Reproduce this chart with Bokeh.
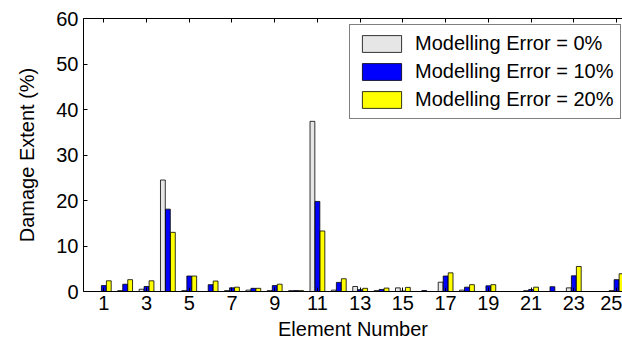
from bokeh.plotting import figure
from bokeh.models import ColumnDataSource, Range1d, LinearAxis, FixedTicker, Legend
from bokeh.transform import dodge
from bokeh.embed import file_html
from bokeh.resources import INLINE

elements = list(range(1, 26))
err0 = [0.0, 0.2, 0.5, 24.5, 0.2, 0.0, 0.2, 0.3, 0.2, 0.2, 37.4, 0.3, 1.1, 0.2, 0.8,
        0.0, 2.05, 0.3, 0.0, 0.0, 0.2, 0.0, 0.8, 0.0, 0.2]
err10 = [1.3, 1.6, 1.1, 18.1, 3.4, 1.5, 0.8, 0.7, 1.3, 0.2, 19.8, 2.0, 0.4, 0.45, 0.1,
         0.2, 3.4, 0.95, 1.25, 0.0, 0.45, 1.05, 3.45, 0.0, 2.6]
err20 = [2.35, 2.6, 2.35, 13.0, 3.4, 2.3, 0.95, 0.7, 1.6, 0.2, 13.3, 2.8, 0.7, 0.75, 0.9,
         0.0, 4.1, 1.5, 1.5, 0.0, 0.95, 0.0, 5.5, 0.0, 3.9]
series_labels = ["Modelling Error = 0%", "Modelling Error = 10%", "Modelling Error = 20%"]
series_colors = ["#e6e6e6", "#0000ff", "#ffff00"]
x_ticks = list(range(1, 26, 2))
y_ticks = list(range(0, 61, 10))

src = ColumnDataSource(dict(x=elements, e0=err0, e10=err10, e20=err20))

FONT = "Liberation Sans"

p = figure(width=622, height=343, x_range=Range1d(0.05, 25.28), y_range=Range1d(0, 60),
           output_backend="svg", toolbar_location=None,
           min_border_left=83, min_border_right=0, min_border_top=18, min_border_bottom=52)
p.outline_line_color = None
p.xgrid.visible = False
p.ygrid.visible = False
p.background_fill_color = "white"
p.border_fill_color = "white"

w = 0.225
renderers = []
for col, off, color in zip(["e0", "e10", "e20"], [-0.234, 0.0, 0.234], series_colors):
    r = p.vbar(x=dodge("x", off, range=p.x_range), top=col, width=w, bottom=0, source=src,
               fill_color=color, line_color="black", line_width=0.8)
    renderers.append(r)

for ax in (p.xaxis[0], p.yaxis[0]):
    ax.axis_line_color = "black"
    ax.major_tick_in = 4
    ax.major_tick_out = 0
    ax.minor_tick_line_color = None
    ax.major_label_text_font = FONT
    ax.major_label_text_font_size = "20px"
    ax.major_label_text_color = "black"
    ax.axis_label_text_font = FONT
    ax.axis_label_text_font_size = "20px"
    ax.axis_label_text_font_style = "normal"
    ax.axis_label_text_color = "black"

p.xaxis[0].ticker = FixedTicker(ticks=x_ticks)
p.yaxis[0].ticker = FixedTicker(ticks=y_ticks)
p.xaxis[0].axis_label = "Element Number"
p.yaxis[0].axis_label = "Damage Extent (%)"
p.xaxis[0].major_label_standoff = 4
p.xaxis[0].axis_label_standoff = 5
p.yaxis[0].major_label_standoff = 5
p.yaxis[0].axis_label_standoff = 15

# top border with inward ticks (as minor ticks, so no labels are drawn)
top = LinearAxis(ticker=FixedTicker(ticks=[], minor_ticks=x_ticks),
                 major_tick_line_color=None, minor_tick_in=4, minor_tick_out=0,
                 minor_tick_line_color="black", axis_line_color="black")
p.add_layout(top, "above")

legend = Legend(items=[(lab, [r]) for lab, r in zip(series_labels, renderers)],
                location=(266, 172), label_text_font=FONT, label_text_font_size="20px",
                label_text_color="black", glyph_width=49, glyph_height=21, label_height=21,
                spacing=5, padding=7, label_standoff=9, border_line_color="black",
                border_line_width=1, background_fill_alpha=1.0, margin=0)
p.add_layout(legend, "center")

open("out.html", "w").write(file_html(p, INLINE))
